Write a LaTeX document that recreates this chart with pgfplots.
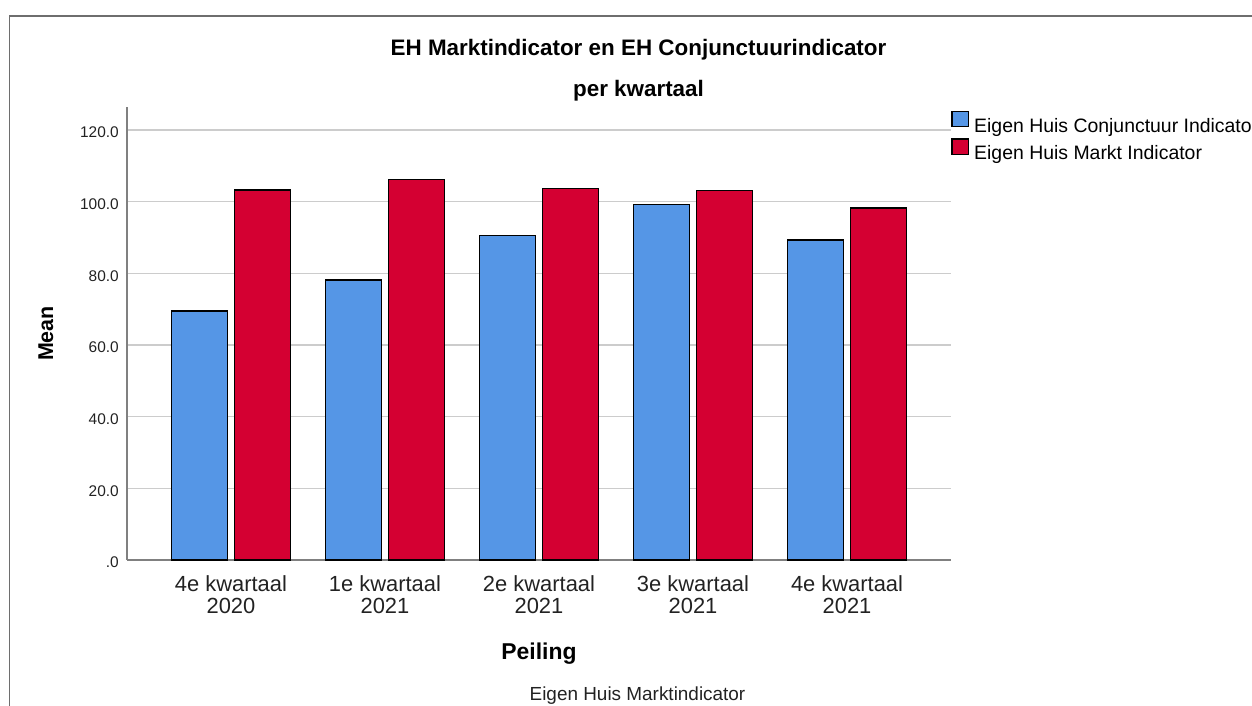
\documentclass[border=0pt]{standalone}
\usepackage{pgfplots}
\pgfplotsset{compat=1.18}
\usepackage{fontspec}
\setmainfont{Liberation Sans}
\definecolor{barblue}{RGB}{85,150,230}
\definecolor{barred}{RGB}{212,0,50}
\definecolor{axgray}{RGB}{128,128,128}
\definecolor{gridgray}{RGB}{204,204,204}
\definecolor{framegray}{RGB}{110,110,110}
\definecolor{txt}{RGB}{34,34,34}
\begin{document}
\begin{tikzpicture}
\draw[draw=framegray, line width=1.3bp] (9.3bp,-5bp) -- (9.3bp,690bp) -- (1260bp,690bp);
\begin{axis}[
  at={(127bp,146bp)}, anchor=south west,
  scale only axis, width=824bp, height=452.7bp,
  xmin=-0.675, xmax=4.675, ymin=0, ymax=126.3,
  axis x line=bottom, axis y line=left,
  axis line style={-, draw=axgray, line width=1.6bp},
  ymajorgrids, grid style={draw=gridgray, line width=1.4bp},
  major tick length=0pt,
  xtick={0,1,2,3,4},
  xticklabels={{4e kwartaal\\2020},{1e kwartaal\\2021},{2e kwartaal\\2021},{3e kwartaal\\2021},{4e kwartaal\\2021}},
  xticklabel style={align=center, font=\fontsize{22}{22.4}\selectfont, text=txt, inner sep=0pt, anchor=north, yshift=-15bp},
  ytick={0,20,40,60,80,100,120},
  yticklabels={.0,20.0,40.0,60.0,80.0,100.0,120.0},
  yticklabel style={font=\fontsize{15.5}{18}\selectfont, text=txt, inner sep=0pt, anchor=east, xshift=-8bp, yshift=-2.5bp},
  legend style={at={(1,0.9925)}, anchor=north west, draw=none, fill=none, inner sep=0pt, row sep=0pt, nodes={inner sep=0pt}, font=\fontsize{19.5}{22}\selectfont, /tikz/every odd column/.append style={column sep=5bp}},
  legend cell align=left,
  legend image code/.code={\draw[#1, line width=1.3bp] (0.65bp,1.35bp) rectangle (17.35bp,16.65bp);},
  clip=false,
]
\addplot[ybar, bar width=56.5bp, bar shift=-31.5bp, fill=barblue, draw=black, line width=1.3bp]
  coordinates {(0,69.5) (1,78.1) (2,90.6) (3,99.2) (4,89.3)};
\addlegendentry{\raisebox{4.5bp}{Eigen Huis Conjunctuur Indicator}}
\addplot[ybar, bar width=56.5bp, bar shift=31.5bp, fill=barred, draw=black, line width=1.3bp]
  coordinates {(0,103.2) (1,106.2) (2,103.6) (3,103.0) (4,98.2)};
\addlegendentry{\raisebox{4.5bp}{Eigen Huis Markt Indicator}}
\end{axis}
\node[anchor=base, font=\bfseries\fontsize{22.5}{26}\selectfont] at (638.5bp,650bp) {EH Marktindicator en EH Conjunctuurindicator};
\node[anchor=base, font=\bfseries\fontsize{22.5}{26}\selectfont] at (638.5bp,609.3bp) {per kwartaal};
\node[anchor=base, rotate=90, font=\bfseries\fontsize{21.5}{25}\selectfont] at (53bp,372.5bp) {Mean};
\node[anchor=base, font=\bfseries\fontsize{23}{27}\selectfont] at (539bp,46.7bp) {Peiling};
\node[anchor=base, font=\fontsize{19}{22}\selectfont, text=txt] at (637.5bp,6bp) {Eigen Huis Marktindicator};
\pgfresetboundingbox
\useasboundingbox (0,0) rectangle (1252bp,706bp);
\end{tikzpicture}
\end{document}
